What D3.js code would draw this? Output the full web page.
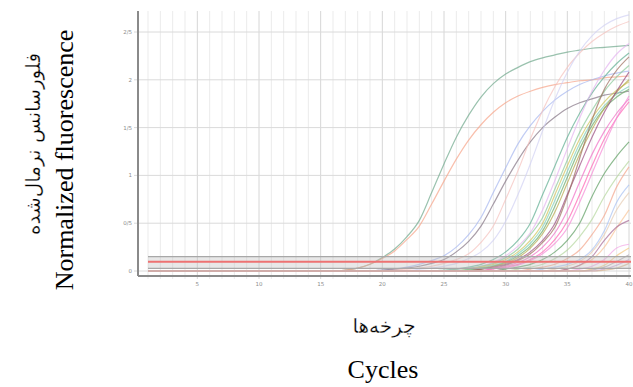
<!DOCTYPE html>
<html>
<head>
<meta charset="utf-8">
<script src="https://cdn.jsdelivr.net/npm/d3@7"></script>
<style>
    body { margin: 0; background: #fff; }
</style>
</head>
<body>
<svg id="chart" width="633" height="387"></svg>
<script>
// x ticks and y ticks as printed on the chart (Persian decimal slash)
var xTicks = [5, 10, 15, 20, 25, 30, 35, 40];
var yTicks = [0, 0.5, 1, 1.5, 2, 2.5];
var yTickLabels = ["0", "0/5", "1", "1/5", "2", "2/5"];

// threshold band near the baseline
var thresholdTop = 0.15;
var thresholdMid = 0.097;
var thresholdLow = 0.028;

// amplification curves: values, the last value is cycle 40,
// earlier cycles (back to cycle 1) sit on the baseline
var curveColors = [
    "#6fa88c", "#f7a489", "#a6b6f0", "#857585", "#f5c2bd", "#d2d2f3",
    "#5fae92", "#e4b4f0", "#8cc99a", "#cfc55a", "#7fd0b8", "#6aab6a",
    "#b5a84a", "#9a4a80", "#9c6e5e", "#f06ec4", "#ff64b4", "#f58ad6",
    "#5e9e62", "#b5d79e", "#f4a58c", "#a9c2f2", "#e6ccb4", "#f9c498",
    "#a86a96", "#f2a6e6", "#f2c882", "#b0a8b0", "#c9a0d8", "#d8b890"
];
var curveValues = [
    [0, 0.01, 0.03, 0.07, 0.14, 0.23, 0.36, 0.53, 0.82, 1.12, 1.4, 1.63, 1.82, 1.96, 2.06, 2.13, 2.19, 2.23, 2.26, 2.29, 2.31, 2.33, 2.34, 2.35, 2.36],
    [0, 0.01, 0.03, 0.07, 0.13, 0.21, 0.33, 0.47, 0.7, 0.94, 1.17, 1.37, 1.53, 1.66, 1.76, 1.83, 1.88, 1.92, 1.95, 1.97, 1.99, 2.0, 2.02, 2.03, 2.04],
    [0, 0.01, 0.02, 0.04, 0.07, 0.11, 0.16, 0.25, 0.38, 0.56, 0.82, 1.08, 1.33, 1.52, 1.67, 1.79, 1.88, 1.95, 2.0, 2.04, 2.07, 2.09],
    [0, 0.01, 0.02, 0.03, 0.05, 0.08, 0.12, 0.2, 0.31, 0.47, 0.7, 0.94, 1.16, 1.35, 1.5, 1.61, 1.7, 1.76, 1.8, 1.84, 1.86, 1.88],
    [0, 0.01, 0.02, 0.03, 0.05, 0.08, 0.12, 0.18, 0.3, 0.47, 0.75, 1.05, 1.38, 1.68, 1.93, 2.13, 2.28, 2.4, 2.49, 2.56, 2.61],
    [0, 0.02, 0.03, 0.05, 0.08, 0.13, 0.2, 0.32, 0.52, 0.8, 1.12, 1.47, 1.8, 2.08, 2.3, 2.46, 2.57, 2.64, 2.68],
    [0, 0.01, 0.02, 0.04, 0.07, 0.12, 0.2, 0.32, 0.5, 0.8, 1.1, 1.4, 1.65, 1.86, 2.03, 2.17, 2.28],
    [0, 0.02, 0.03, 0.05, 0.09, 0.16, 0.26, 0.4, 0.64, 0.95, 1.28, 1.6, 1.88, 2.1, 2.27, 2.38],
    [0, 0.02, 0.03, 0.05, 0.08, 0.14, 0.23, 0.38, 0.56, 0.86, 1.16, 1.45, 1.68, 1.88, 2.03, 2.15],
    [0, 0.02, 0.04, 0.07, 0.12, 0.2, 0.32, 0.5, 0.8, 1.1, 1.38, 1.6, 1.77, 1.89, 1.98],
    [0, 0.02, 0.03, 0.06, 0.1, 0.18, 0.29, 0.46, 0.74, 1.04, 1.33, 1.56, 1.73, 1.85, 1.93],
    [0, 0.01, 0.03, 0.05, 0.09, 0.16, 0.26, 0.42, 0.68, 0.98, 1.28, 1.52, 1.7, 1.82, 1.9],
    [0, 0.02, 0.05, 0.08, 0.14, 0.24, 0.39, 0.62, 0.92, 1.22, 1.48, 1.7, 1.87, 2.0],
    [0, 0.02, 0.04, 0.07, 0.12, 0.2, 0.32, 0.5, 0.8, 1.1, 1.4, 1.66, 1.88, 2.08],
    [0, 0.02, 0.03, 0.06, 0.11, 0.18, 0.3, 0.46, 0.78, 1.18, 1.58, 1.9, 2.1, 2.24],
    [0, 0.03, 0.05, 0.09, 0.15, 0.25, 0.4, 0.63, 0.93, 1.22, 1.46, 1.65, 1.8],
    [0, 0.02, 0.04, 0.07, 0.12, 0.2, 0.33, 0.52, 0.8, 1.1, 1.38, 1.6, 1.77],
    [0, 0.03, 0.06, 0.11, 0.18, 0.29, 0.45, 0.72, 1.02, 1.32, 1.6, 1.83],
    [0, 0.02, 0.04, 0.07, 0.12, 0.2, 0.32, 0.5, 0.78, 1.02, 1.2, 1.35],
    [0, 0.02, 0.04, 0.07, 0.13, 0.22, 0.36, 0.54, 0.78, 0.98, 1.15],
    [0, 0.02, 0.04, 0.07, 0.13, 0.22, 0.38, 0.58, 0.88, 1.09],
    [0, 0.02, 0.04, 0.07, 0.12, 0.22, 0.42, 0.72, 0.9],
    [0, 0.02, 0.05, 0.1, 0.2, 0.38, 0.64, 0.82],
    [0, 0.02, 0.06, 0.12, 0.25, 0.45, 0.64],
    [0, 0.02, 0.06, 0.15, 0.32, 0.46, 0.53],
    [0, 0.02, 0.05, 0.12, 0.24, 0.28],
    [0, 0.02, 0.06, 0.16, 0.24],
    [0, 0.01, 0.04, 0.1, 0.17],
    [0, 0.02, 0.06, 0.12],
    [0, 0.01, 0.03, 0.08]
];

function AmplificationChart(svgId) {

    var svg = d3.select(`#${svgId}`);

    var left = 138, right = 631, top = 11, bottom = 276;

    var x = d3.scaleLinear().domain([1, 40]).range([148, 629]);
    var y = d3.scaleLinear().domain([0, 2.5]).range([271, 32]);

    // vertical grid, one line per cycle, darker every 5
    svg.append("g")
        .selectAll("line")
        .data(d3.range(1, 41))
        .enter().append("line")
        .attr("x1", function(d) { return x(d); })
        .attr("x2", function(d) { return x(d); })
        .attr("y1", top)
        .attr("y2", bottom + 3)
        .attr("stroke", function(d) {
            return d % 5 === 0 ? "#d6d6d6" : "#ebebeb";
        })
        .attr("stroke-width", 1);

    // horizontal grid
    svg.append("g")
        .selectAll("line")
        .data(yTicks)
        .enter().append("line")
        .attr("x1", left - 4)
        .attr("x2", right)
        .attr("y1", function(d) { return y(d); })
        .attr("y2", function(d) { return y(d); })
        .attr("stroke", "#dadada")
        .attr("stroke-width", 1);

    // tick labels
    svg.append("g")
        .selectAll("text")
        .data(yTicks)
        .enter().append("text")
        .attr("x", left - 6)
        .attr("y", function(d) { return y(d) + 2; })
        .attr("text-anchor", "end")
        .attr("font-family", "DejaVu Sans, sans-serif")
        .attr("font-size", 5.5)
        .attr("fill", "#8c8c8c")
        .text(function(d, i) { return yTickLabels[i]; });

    svg.append("g")
        .selectAll("text")
        .data(xTicks)
        .enter().append("text")
        .attr("x", function(d) { return x(d); })
        .attr("y", bottom + 10)
        .attr("text-anchor", "middle")
        .attr("font-family", "DejaVu Sans, sans-serif")
        .attr("font-size", 5.5)
        .attr("fill", "#8c8c8c")
        .text(function(d) { return d; });

    // curves
    var line = d3.line()
        .x(function(d) { return x(d[0]); })
        .y(function(d) { return y(d[1]); })
        .curve(d3.curveMonotoneX);

    var curves = curveValues.map(function(vals, i) {
        var start = 41 - vals.length;
        var pts = [[1, vals[0]]];
        vals.forEach(function(v, j) { pts.push([start + j, v]); });
        return { color: curveColors[i], points: pts };
    });

    svg.append("g")
        .attr("class", "curves")
        .selectAll("path")
        .data(curves)
        .enter().append("path")
        .attr("d", function(d) { return line(d.points); })
        .attr("fill", "none")
        .attr("stroke", function(d) { return d.color; })
        .attr("stroke-width", 1.2)
        .attr("stroke-opacity", 0.7);

    // threshold band
    svg.append("rect")
        .attr("x", x(1))
        .attr("width", x(40) - x(1) + 2)
        .attr("y", y(thresholdTop))
        .attr("height", y(thresholdLow) - y(thresholdTop))
        .attr("fill", "#bdbdbd")
        .attr("fill-opacity", 0.35);

    svg.append("g")
        .selectAll("line")
        .data([
            { v: thresholdTop, c: "#a8a8a8", w: 1.2 },
            { v: thresholdMid, c: "#ee7272", w: 2 },
            { v: thresholdLow, c: "#a8a8a8", w: 1.2 }
        ])
        .enter().append("line")
        .attr("x1", x(1))
        .attr("x2", x(40) + 2)
        .attr("y1", function(d) { return y(d.v); })
        .attr("y2", function(d) { return y(d.v); })
        .attr("stroke", function(d) { return d.c; })
        .attr("stroke-width", function(d) { return d.w; });

    // axis lines
    svg.append("line")
        .attr("x1", left).attr("x2", left)
        .attr("y1", top).attr("y2", bottom)
        .attr("stroke", "#8a8a8a")
        .attr("stroke-width", 2);

    svg.append("line")
        .attr("x1", left).attr("x2", right)
        .attr("y1", bottom).attr("y2", bottom)
        .attr("stroke", "#8a8a8a")
        .attr("stroke-width", 2);

    // axis titles
    var serif = "'Liberation Serif', 'Times New Roman', serif";
    var persian = "'DejaVu Sans', sans-serif";

    // white stroke on top of the fill thins the heavy Arabic glyphs a little
    svg.append("text")
        .attr("transform", "translate(40,144) rotate(-90)")
        .attr("text-anchor", "middle")
        .attr("font-family", persian)
        .attr("font-size", 20)
        .attr("fill", "#000")
        .attr("stroke", "#fff")
        .attr("stroke-width", 0.3)
        .text("فلورسانس نرمال\u200cشده");

    svg.append("text")
        .attr("transform", "translate(73,160) rotate(-90)")
        .attr("text-anchor", "middle")
        .attr("font-family", serif)
        .attr("font-size", 26)
        .attr("fill", "#000")
        .text("Normalized fluorescence");

    svg.append("text")
        .attr("x", 384)
        .attr("y", 333)
        .attr("text-anchor", "middle")
        .attr("font-family", persian)
        .attr("font-size", 20)
        .attr("fill", "#000")
        .attr("stroke", "#fff")
        .attr("stroke-width", 0.3)
        .text("چرخه\u200cها");

    svg.append("text")
        .attr("x", 383)
        .attr("y", 378)
        .attr("text-anchor", "middle")
        .attr("font-family", serif)
        .attr("font-size", 26)
        .attr("fill", "#000")
        .text("Cycles");
}

AmplificationChart("chart");
</script>
</body>
</html>
